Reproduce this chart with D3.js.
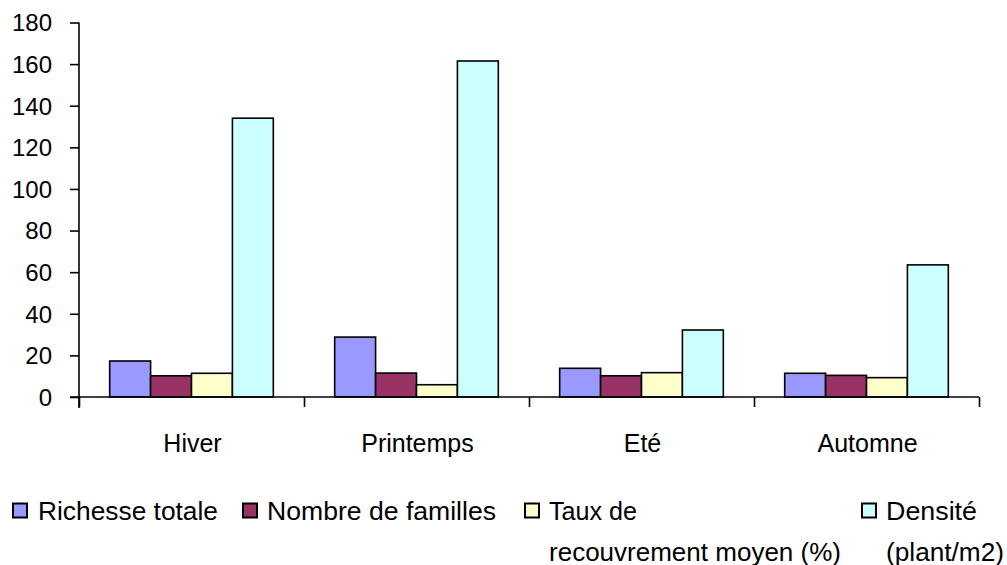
<!DOCTYPE html>
<html>
<head>
<meta charset="utf-8">
<script src="https://cdn.jsdelivr.net/npm/d3@7"></script>
<style>
  html, body { margin: 0; padding: 0; background: #fff; }
  svg { display: block; font-family: "Liberation Sans", Arial, sans-serif; }
</style>
</head>
<body>
<svg id="chart" width="1007" height="565"></svg>
<script>
const seasons = ["Hiver", "Printemps", "Eté", "Automne"];
const richesse = [17.3, 28.8, 13.8, 11.4];
const familles = [10.2, 11.5, 10.2, 10.4];
const recouvrement = [11.4, 5.9, 11.7, 9.3];
const densite = [134, 161.5, 32.2, 63.5];
const yTicks = [0, 20, 40, 60, 80, 100, 120, 140, 160, 180];
const colors = ["#9999ff", "#993366", "#ffffcc", "#ccffff"];

const values = [richesse, familles, recouvrement, densite];

const svg = d3.select("#chart");
const mLeft = 79, mRight = 979, mTop = 22.5, mBottom = 397;

const y = d3.scaleLinear().domain([0, 180]).range([mBottom, mTop]);
const x0 = d3.scaleBand().domain(seasons).range([mLeft, mRight]);
// Excel gap width 150%: 4 bars + 1.5 bar widths of gap per category
const x1 = d3.scaleBand().domain(d3.range(4)).range([0, x0.bandwidth()]).paddingOuter(0.75);

// bars
const groups = svg.append("g").selectAll("g")
  .data(seasons)
  .join("g")
  .attr("transform", d => `translate(${x0(d)},0)`);

groups.selectAll("rect")
  .data((d, i) => values.map((s, k) => ({k, v: s[i]})))
  .join("rect")
  .attr("x", d => x1(d.k))
  .attr("width", x1.bandwidth())
  .attr("y", d => y(d.v))
  .attr("height", d => y(0) - y(d.v))
  .attr("fill", d => colors[d.k])
  .attr("stroke", "#000")
  .attr("stroke-width", 1.6);

// y axis
const yAxis = svg.append("g")
  .attr("transform", `translate(${mLeft},0)`)
  .call(d3.axisLeft(y).tickValues(yTicks).tickSize(9).tickPadding(18));
yAxis.select(".domain").attr("stroke", "#000").attr("stroke-width", 1.6)
  .attr("d", `M0,${mTop}V${mBottom + 11}`);
yAxis.selectAll(".tick line").attr("stroke", "#000").attr("stroke-width", 1.6);
yAxis.selectAll(".tick text")
  .style("font-size", "24px")
  .style("font-family", "'Liberation Sans', Arial, sans-serif")
  .attr("fill", "#000")
  .attr("dy", "0.35em");

// x axis: ticks between categories
const xb = d3.scaleLinear().domain([0, seasons.length]).range([mLeft, mRight]);
const xAxis = svg.append("g")
  .attr("transform", `translate(0,${mBottom})`)
  .call(d3.axisBottom(xb).tickValues(d3.range(seasons.length + 1)).tickSize(10).tickFormat(""));
xAxis.select(".domain").attr("stroke", "#000").attr("stroke-width", 1.6)
  .attr("d", `M${mLeft - 9},0H${mRight}`);
xAxis.selectAll(".tick line").attr("stroke", "#000").attr("stroke-width", 1.6);

svg.append("g").selectAll("text")
  .data(seasons)
  .join("text")
  .attr("x", d => x0(d) + x0.bandwidth() / 2 + 1)
  .attr("y", 452)
  .attr("text-anchor", "middle")
  .style("font-size", "25px")
  .text(d => d);

// legend
const legend = [
  {sx: 13, tx: 38, lines: ["Richesse totale"], w: [180]},
  {sx: 243, tx: 267, lines: ["Nombre de familles"], w: [229]},
  {sx: 525, tx: 549, lines: ["Taux de", "recouvrement moyen (%)"], w: [88, 292]},
  {sx: 862, tx: 886, lines: ["Densité", "(plant/m2)"], w: [91, 118]}
];

const lg = svg.append("g").selectAll("g")
  .data(legend)
  .join("g");

lg.append("rect")
  .attr("x", d => d.sx)
  .attr("y", 503.5)
  .attr("width", 14)
  .attr("height", 14)
  .attr("fill", (d, i) => colors[i])
  .attr("stroke", "#000")
  .attr("stroke-width", 2);

lg.each(function (d) {
  d3.select(this).selectAll("text")
    .data(d.lines.map((t, j) => ({t, j, w: d.w[j]})))
    .join("text")
    .attr("x", d.tx)
    .attr("y", e => 520 + e.j * 41)
    .style("font-size", "25px")
    .attr("textLength", e => e.w)
    .attr("lengthAdjust", "spacingAndGlyphs")
    .text(e => e.t);
});
</script>
</body>
</html>
